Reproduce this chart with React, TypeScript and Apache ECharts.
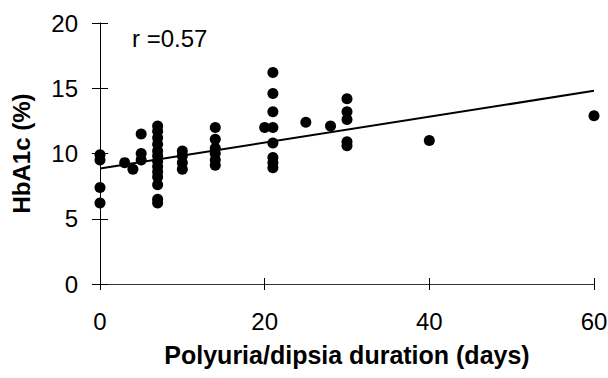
import React, { useEffect, useRef } from "react";
import * as echarts from "echarts";

const xTicks = [0, 20, 40, 60];
const yTicks = [0, 5, 10, 15, 20];

const durations = [
  0, 0, 0, 0,
  3, 4,
  5, 5, 5,
  7, 7, 7, 7, 7, 7, 7, 7, 7, 7, 7, 7, 7,
  10, 10, 10, 10,
  14, 14, 14, 14, 14, 14,
  20,
  21, 21, 21, 21, 21, 21, 21, 21,
  25, 28,
  30, 30, 30, 30, 30,
  40, 60,
];
const hba1c = [
  9.9, 9.5, 7.4, 6.2,
  9.3, 8.8,
  11.5, 10.0, 9.5,
  12.1, 11.7, 11.2, 10.7, 10.2, 9.8, 9.4, 9.0, 8.6, 8.2, 7.6, 6.5, 6.2,
  10.2, 9.8, 9.3, 8.8,
  12.0, 11.1, 10.4, 10.0, 9.5, 9.1,
  12.0,
  16.2, 14.6, 13.2, 12.0, 10.8, 9.7, 9.3, 8.9,
  12.4, 12.1,
  14.2, 13.2, 12.6, 10.9, 10.6,
  11.0, 12.9,
];
const trendX = [0, 60];
const trendY = [8.85, 14.8];

const FONT = "'Liberation Sans', Arial, sans-serif";

export default function App() {
  const ref = useRef<HTMLDivElement>(null);
  useEffect(() => {
    if (!ref.current) return;
    const chart = echarts.init(ref.current, undefined, { renderer: "svg" });
    const axisLineStyle = { color: "#000", width: 1 };
    const baseX = {
      type: "value",
      min: xTicks[0],
      max: xTicks[xTicks.length - 1],
      interval: 20,
      splitLine: { show: false },
      axisLine: { show: true, onZero: false, lineStyle: { color: "#333", width: 1 } },
    };
    const baseY = {
      type: "value",
      min: yTicks[0],
      max: yTicks[yTicks.length - 1],
      interval: 5,
      splitLine: { show: false },
      axisLine: { show: true, onZero: false, lineStyle: axisLineStyle },
    };
    chart.setOption({
      animation: false,
      backgroundColor: "#fff",
      grid: { left: 100, right: 14, top: 23, bottom: 94, outerBoundsMode: "none", containLabel: false },
      xAxis: [
        {
          ...baseX,
          position: "bottom",
          name: "Polyuria/dipsia duration (days)",
          nameLocation: "middle",
          nameGap: 58,
          nameTextStyle: { fontFamily: FONT, fontSize: 25, fontWeight: "bold", color: "#000" },
          axisTick: { show: true, inside: false, length: 6, lineStyle: { color: "#000" } },
          axisLabel: { fontFamily: FONT, fontSize: 24, color: "#000", margin: 25 },
        },
        {
          ...baseX,
          position: "bottom",
          axisTick: { show: true, inside: true, length: 6, lineStyle: { color: "#000" } },
          axisLabel: { show: false },
        },
      ],
      yAxis: [
        {
          ...baseY,
          position: "left",
          name: "HbA1c (%)",
          nameLocation: "middle",
          nameGap: 67,
          nameRotate: 90,
          nameTextStyle: { fontFamily: FONT, fontSize: 24, fontWeight: "bold", color: "#000" },
          axisTick: { show: true, inside: false, length: 8, lineStyle: { color: "#000" } },
          axisLabel: { fontFamily: FONT, fontSize: 24, color: "#000", margin: 22 },
        },
        {
          ...baseY,
          position: "left",
          axisTick: { show: true, inside: true, length: 8, lineStyle: { color: "#000" } },
          axisLabel: { show: false },
        },
      ],
      graphic: [
        {
          type: "text",
          left: 132,
          top: 26,
          style: { text: "r =0.57", font: `24px ${FONT}`, fill: "#000" },
        },
      ],
      series: [
        {
          type: "line",
          data: trendX.map((x, i) => [x, trendY[i]]),
          showSymbol: false,
          lineStyle: { color: "#000", width: 2 },
          z: 1,
        },
        {
          type: "scatter",
          data: durations.map((d, i) => [d, hba1c[i]]),
          symbol: "circle",
          symbolSize: 11,
          itemStyle: { color: "#000", opacity: 1 },
          z: 2,
        },
      ],
    });
    return () => chart.dispose();
  }, []);
  return (
    <div
      ref={ref}
      style={{ position: "absolute", left: 0, top: 0, width: 608, height: 378 }}
    />
  );
}
